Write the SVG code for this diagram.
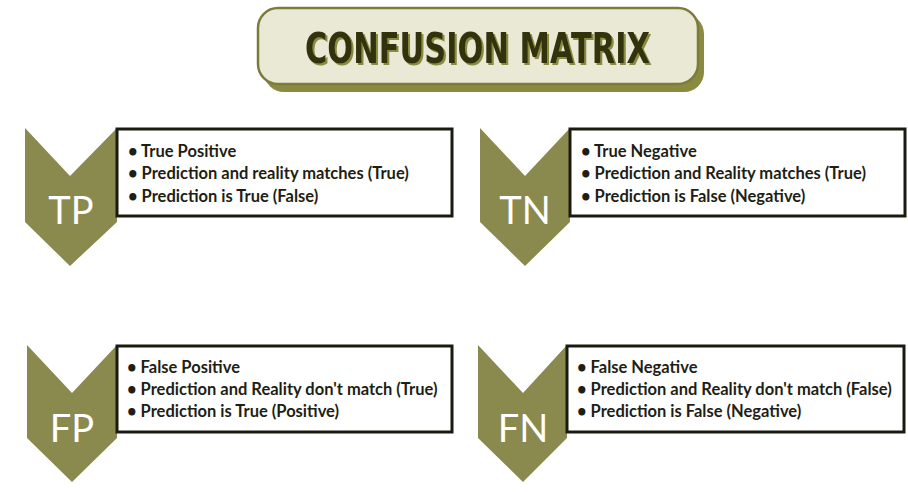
<svg xmlns="http://www.w3.org/2000/svg" width="908" height="492" viewBox="0 0 908 492">
<defs>
<filter id="sh" x="-5%" y="-20%" width="110%" height="140%"><feDropShadow dx="2" dy="2" stdDeviation="0" flood-color="#8a8a40"/></filter>
</defs>
<style>
.chev{fill:#8a8a4e}
.box{fill:#fff;stroke:#1a1a10;stroke-width:3}
.lbl{font-family:Lato,"Open Sans",sans-serif;font-size:38px;fill:#fff;text-anchor:middle}
.t{font-family:Lato,"Open Sans",sans-serif;font-weight:bold;font-size:16.5px;fill:#1e1e14}
.title{font-family:"DejaVu Sans Condensed","DejaVu Sans",sans-serif;font-weight:bold;font-size:42px}
</style>
<rect width="908" height="492" fill="#fff"/>
<g id="title">
<rect x="264" y="14" width="440" height="78" rx="20" fill="#8a8a40"/>
<rect x="258" y="8" width="440" height="76" rx="20" fill="#e9e9d6" stroke="#7c7c3a" stroke-width="2.5"/>
<text x="305" y="63" class="title" fill="#33330f" textLength="345" lengthAdjust="spacingAndGlyphs" filter="url(#sh)">CONFUSION MATRIX</text>
</g>
<g id="tp">
<polygon class="chev" points="25,128 70,176 117,128 117,222 70,266 25,222"/>
<rect class="box" x="117" y="129" width="335" height="87"/>
<text class="lbl" x="71" y="224">TP</text>
<text class="t" x="128" y="157">•  True Positive</text>
<text class="t" x="128" y="179">•  Prediction and reality matches (True)</text>
<text class="t" x="128" y="202">•  Prediction is True (False)</text>
</g>
<g id="tn">
<polygon class="chev" points="480,128 525,176 570,128 570,222 525,266 480,222"/>
<rect class="box" x="570" y="129" width="335" height="87"/>
<text class="lbl" x="525" y="224">TN</text>
<text class="t" x="581" y="157">•  True Negative</text>
<text class="t" x="581" y="179">•  Prediction and Reality matches (True)</text>
<text class="t" x="581" y="202">•  Prediction is False (Negative)</text>
</g>
<g id="fp">
<polygon class="chev" points="27,345 72,393 117,345 117,438 72,482 27,438"/>
<rect class="box" x="117" y="346" width="335" height="86"/>
<text class="lbl" x="72" y="442">FP</text>
<text class="t" x="127" y="373">•  False Positive</text>
<text class="t" x="127" y="395">•  Prediction and Reality don't  match (True)</text>
<text class="t" x="127" y="417">•  Prediction is True (Positive)</text>
</g>
<g id="fn">
<polygon class="chev" points="478,345 523,393 567,345 567,438 523,482 478,438"/>
<rect class="box" x="567" y="346" width="337" height="86"/>
<text class="lbl" x="523" y="442">FN</text>
<text class="t" x="577" y="373">•  False Negative</text>
<text class="t" x="577" y="395">•  Prediction and Reality don't match (False)</text>
<text class="t" x="577" y="417">•  Prediction is False (Negative)</text>
</g>
<g id="connectors"/>
</svg>
